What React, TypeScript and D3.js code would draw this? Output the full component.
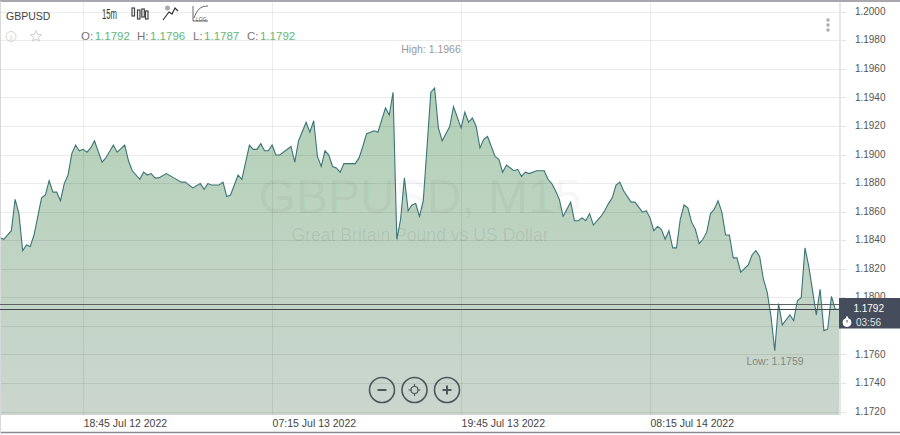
import React from "react";
import * as d3 from "d3";

const bars = [0,1,3,4,5,6,7,8,9,11,12,13,14,15,16,17,18,19,20,21,22,23,24,25,27,28,30,31,33,34,35,37,38,39,40,41,42,44,46,48,49,51,53,54,55,56,58,59,60,61,63,64,66,67,68,69,70,71,72,73,74,77,78,79,81,82,83,84,85,86,87,88,89,90,91,94,95,96,97,99,100,102,103,104,105,106,107,108,109,110,111,112,114,115,116,117,119,120,122,123,124,125,126,127,128,129,131,132,133,134,136,137,138,139,140,142,144,145,146,147,148,149,151,152,153,154,155,156,157,159,160,161,162,163,164,165,167,168,170,171,172,173,174,175,176,177,178,179,180,181,182,183,184,185,186,187,188,189,190,191,192,193,194,195,196,198,199,200,201,202,203,204,205,206,207,209,210,211,212,213,214,216,217,218,219,220,221,222];
const closes = [1.1842,1.1841,1.1847,1.1869,1.1859,1.1833,1.1837,1.1836,1.1844,1.1870,1.1872,1.1882,1.1874,1.1874,1.1868,1.1880,1.1886,1.1901,1.1907,1.1903,1.1904,1.1902,1.1905,1.1910,1.1895,1.1898,1.1907,1.1902,1.1907,1.1896,1.1889,1.1883,1.1888,1.1886,1.1887,1.1884,1.1884,1.1887,1.1884,1.1881,1.1881,1.1877,1.1880,1.1876,1.1880,1.1879,1.1879,1.1881,1.1871,1.1872,1.1886,1.1883,1.1907,1.1904,1.1904,1.1908,1.1903,1.1903,1.1907,1.1900,1.1900,1.1906,1.1895,1.1910,1.1923,1.1916,1.1924,1.1899,1.1892,1.1903,1.1900,1.1892,1.1891,1.1888,1.1894,1.1894,1.1898,1.1906,1.1915,1.1917,1.1916,1.1933,1.1928,1.1944,1.1841,1.1855,1.1884,1.1861,1.1865,1.1866,1.1857,1.1868,1.1944,1.1947,1.1919,1.1910,1.1920,1.1934,1.1919,1.1930,1.1923,1.1926,1.1920,1.1905,1.1911,1.1913,1.1899,1.1897,1.1888,1.1893,1.1889,1.1890,1.1885,1.1888,1.1887,1.1889,1.1889,1.1883,1.1880,1.1875,1.1869,1.1857,1.1867,1.1854,1.1854,1.1856,1.1854,1.1859,1.1851,1.1857,1.1861,1.1866,1.1870,1.1879,1.1881,1.1875,1.1867,1.1867,1.1860,1.1861,1.1856,1.1847,1.1850,1.1848,1.1841,1.1847,1.1835,1.1835,1.1855,1.1865,1.1863,1.1853,1.1848,1.1838,1.1841,1.1846,1.1859,1.1862,1.1868,1.1860,1.1844,1.1844,1.1828,1.1828,1.1818,1.1823,1.1830,1.1833,1.1829,1.1813,1.1804,1.1787,1.1763,1.1796,1.1781,1.1788,1.1784,1.1798,1.1800,1.1835,1.1822,1.1788,1.1806,1.1777,1.1778,1.1801,1.1792,1.1792];

const priceTicks = [1.2,1.198,1.196,1.194,1.192,1.19,1.188,1.186,1.184,1.182,1.18,1.178,1.176,1.174,1.172];
const hiddenLabelTicks = [1.178];
const timeTickBars = [22,72,122,172];
const timeTickLabels = ["18:45 Jul 12 2022","07:15 Jul 13 2022","19:45 Jul 13 2022","08:15 Jul 14 2022"];
const priceLines = [1.1795,1.1792];
const symbol = "GBPUSD";
const ohlc = [["O:","1.1792"],["H:","1.1796"],["L:","1.1787"],["C:","1.1792"]];
const ohlcX = [81,137,193,247];

const W = 900, H = 435, plotR = 839, plotB = 415;
const font = "'Liberation Sans', Arial, sans-serif";

export default function App() {
  const x = d3.scaleLinear().domain([0,222]).range([0,plotR]);
  const y = d3.scaleLinear().domain([1.172,1.2]).range([412,12.3]);
  const pts = bars.map((b,i)=>[b,closes[i]] as [number,number]);
  const area = d3.area<[number,number]>().x(d=>x(d[0])).y0(plotB).y1(d=>y(d[1]))(pts)!;
  const line = d3.line<[number,number]>().x(d=>x(d[0])).y(d=>y(d[1]))(pts)!;
  const crisp = (v:number)=>Math.floor(v)+0.5;
  return (
    <svg width={W} height={H} viewBox={`0 0 ${W} ${H}`} style={{position:"absolute",left:0,top:0,display:"block",fontFamily:font}}>
      <defs>
        <linearGradient id="fill" gradientUnits="userSpaceOnUse" x1="0" y1="90" x2="0" y2={plotB}>
          <stop offset="0" stopColor="#b3d1b7"/>
          <stop offset="1" stopColor="#cbd6ce"/>
        </linearGradient>
      </defs>
      <rect width={W} height={H} fill="#fff"/>
      <path d={area} fill="url(#fill)"/>
      {priceTicks.map(t=>(
        <g key={t}>
          <line x1={0} x2={plotR} y1={crisp(y(t))} y2={crisp(y(t))} stroke="#000" strokeOpacity={0.08}/>
          <line x1={841} x2={846} y1={crisp(y(t))} y2={crisp(y(t))} stroke="#e4e4e4"/>
          {!hiddenLabelTicks.includes(t) && <text x={885.5} y={y(t)+2.6} textAnchor="end" fontSize={10} fill="#555">{t.toFixed(4)}</text>}
        </g>
      ))}
      {timeTickBars.map((b,i)=>(
        <g key={b}>
          <line x1={crisp(x(b))} x2={crisp(x(b))} y1={2} y2={plotB} stroke="#000" strokeOpacity={0.07}/>
          <text x={x(b)+0.5} y={426.5} textAnchor="start" fontSize={10.5} fill="#444">{timeTickLabels[i]}</text>
        </g>
      ))}
      <text x={420} y={213} textAnchor="middle" fontSize={48} fill="#000" fillOpacity={0.055}>GBPUSD, M15</text>
      <text x={420} y={241} textAnchor="middle" fontSize={17.6} fill="#000" fillOpacity={0.075}>Great Britain Pound vs US Dollar</text>
      <path d={line} fill="none" stroke="#3a7478" strokeWidth={1.1}/>
      <rect x={839} y={2} width={2} height={413} fill="#e6e6e6"/>
      <line x1={0} x2={W} y1={1} y2={1} stroke="#8a8a92" strokeWidth={1.5}/>
      <line x1={0} x2={W} y1={432.5} y2={432.5} stroke="#8a8a92" strokeWidth={1.5}/>
      <line x1={0.5} x2={0.5} y1={1} y2={433} stroke="#d8d8d8"/>

      {/* price box */}
      <rect x={839} y={298} width={61} height={30.5} fill="#454c5b"/>
      {priceLines.map((p,i)=>(
        <line key={p} x1={0} x2={839} y1={crisp(y(p))} y2={crisp(y(p))} stroke={i===0?"#5c6362":"#3f4650"} strokeWidth={1}/>
      ))}
      <text x={884} y={311.5} textAnchor="end" fontSize={10} fill="#fff">1.1792</text>
      <g transform="translate(847,322.5)" fill="none" stroke="#fff">
        <circle r={4} fill="#fff"/>
        <line x1={0} x2={0} y1={-6} y2={-4} strokeWidth={2}/>
        <line x1={0} x2={0} y1={-2.5} y2={0} stroke="#454c5b" strokeWidth={1}/>
      </g>
      <text x={856} y={326} fontSize={10} fill="#dfe3e6">03:56</text>

      {/* header */}
      <text x={6} y={20} fontSize={10.5} fill="#444">{symbol}</text>
      <circle cx={11} cy={36.5} r={5} fill="none" stroke="#d4d4d4"/>
      <text x={11} y={39.5} textAnchor="middle" fontSize={7} fill="#c4c4c4">i</text>
      <path d={d3.range(10).map(i=>{const r=i%2?2.6:5.8;const a=-Math.PI/2+i*Math.PI/5;return `${i?"L":"M"}${36+r*Math.cos(a)},${36.5+r*Math.sin(a)}`;}).join("")+"Z"} fill="none" stroke="#cfcfcf"/>
      {ohlc.map(([k,v],i)=>(
        <text key={k} x={ohlcX[i]} y={40} fontSize={11.5}>
          <tspan fill="#777">{k}</tspan><tspan dx={1.5} fill="#62b878">{v}</tspan>
        </text>
      ))}

      {/* toolbar */}
      <text x={102} y={19} fontSize={15} fill="#333" textLength={15} lengthAdjust="spacingAndGlyphs">15m</text>
      <g fill="none" stroke="#444" strokeWidth={1.2}>
        <rect x={132} y={8} width={2.5} height={8}/>
        <rect x={137.5} y={10} width={2.5} height={9}/>
        <rect x={141.8} y={9} width={2.5} height={8}/>
        <rect x={145.5} y={11} width={2.5} height={8}/>
      </g>
      <path d="M163,20L169,12L172,14L175,8L178,11" fill="none" stroke="#333" strokeWidth={1.2}/>
      <circle cx={167.5} cy={8} r={2.5} fill="#aaa"/>
      <path d="M193,6V21H208M194,18C197,10 200,6 208,6" fill="none" stroke="#666" strokeWidth={1}/>
      <text x={196} y={21} fontSize={5} fill="#555">LOG</text>
      {[20,25,30].map(c=><circle key={c} cx={828} cy={c} r={1.7} fill="#aaa"/>)}

      <text x={431} y={53} textAnchor="middle" fontSize={10.5} fill="#999">High: 1.1966</text>
      <text x={775} y={365} textAnchor="middle" fontSize={10.5} fill="#7f8a83">Low: 1.1759</text>

      {/* zoom buttons */}
      {[382,414.5,447].map((c,i)=>(
        <g key={c} fill="none" stroke="#50565e" strokeWidth={1.6}>
          <circle cx={c} cy={390} r={12.5}/>
          {i!==1 && <line x1={c-4.5} x2={c+4.5} y1={390} y2={390} strokeWidth={2}/>}
          {i===2 && <line x1={c} x2={c} y1={385.5} y2={394.5} strokeWidth={2}/>}
          {i===1 && <g strokeWidth={1.2}><circle cx={c} cy={390} r={3.5}/><path d={`M${c-6},390h3M${c+3},390h3M${c},384v3M${c},393v3`}/></g>}
        </g>
      ))}
    </svg>
  );
}
